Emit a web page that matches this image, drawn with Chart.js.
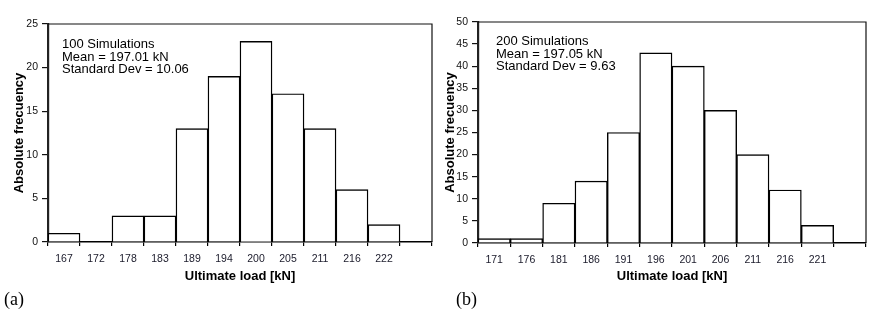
<!DOCTYPE html>
<html>
<head>
<meta charset="utf-8">
<script src="https://cdn.jsdelivr.net/npm/chart.js@4.4.1/dist/chart.umd.min.js"></script>
<style>
  html, body { margin: 0; padding: 0; background: #fff; }
  body { width: 871px; height: 315px; position: relative; overflow: hidden; }
  canvas { position: absolute; top: 0; }
  #c1 { left: 0; }
  #c2 { left: 435px; }
  .lab { position: absolute; font-family: "Liberation Serif", "Times New Roman", serif; font-size: 18px; color: #000; }
</style>
</head>
<body>
<canvas id="c1" width="440" height="315"></canvas>
<canvas id="c2" width="436" height="315"></canvas>
<div class="lab" style="left:4px; top:289px;">(a)</div>
<div class="lab" style="left:456px; top:289px;">(b)</div>
<script>
// ---- data ----
const catsA = ['167', '172', '178', '183', '189', '194', '200', '205', '211', '216', '222', ''];
const freqA = [1, 0, 3, 3, 13, 19, 23, 17, 13, 6, 2, 0];
const yTicksA = { min: 0, max: 25, step: 5 };
const noteA = ['100 Simulations', 'Mean = 197.01 kN', 'Standard Dev = 10.06'];

const catsB = ['171', '176', '181', '186', '191', '196', '201', '206', '211', '216', '221', ''];
const freqB = [1, 1, 9, 14, 25, 43, 40, 30, 20, 12, 4, 0];
const yTicksB = { min: 0, max: 50, step: 5 };
const noteB = ['200 Simulations', 'Mean = 197.05 kN', 'Standard Dev = 9.63'];

const xTitle = 'Ultimate load [kN]';
const yTitle = 'Absolute frecuency';

const FONT = '"Liberation Sans", Arial, sans-serif';

const framePlugin = {
  id: 'frame',
  afterDraw(chart, args, opts) {
    const { ctx, chartArea: a } = chart;
    ctx.save();
    ctx.strokeStyle = '#111';
    ctx.lineWidth = 1.2;
    ctx.beginPath();
    ctx.moveTo(a.left, a.top);
    ctx.lineTo(a.right, a.top);
    ctx.lineTo(a.right, a.bottom);
    ctx.stroke();
    // annotation text
    ctx.fillStyle = '#000';
    ctx.font = '13px ' + FONT;
    ctx.textBaseline = 'alphabetic';
    opts.lines.forEach((t, i) => ctx.fillText(t, a.left + opts.dx, a.top + opts.dy + i * opts.lh));
    ctx.restore();
  }
};

function makeChart(id, cats, vals, yt, note, geo) {
  return new Chart(document.getElementById(id), {
    type: 'bar',
    data: {
      labels: cats,
      datasets: [{
        data: vals,
        backgroundColor: '#fff',
        borderColor: '#000',
        borderWidth: 1.4,
        categoryPercentage: 1.0,
        barPercentage: 1.0
      }]
    },
    options: {
      responsive: false,
      devicePixelRatio: 1,
      animation: false,
      events: [],
      layout: { padding: { left: 0, top: geo.top, right: geo.right, bottom: 0 } },
      plugins: {
        legend: { display: false },
        tooltip: { enabled: false },
        frame: { lines: note, dx: geo.ndx, dy: geo.ndy, lh: 12.7 }
      },
      scales: {
        x: {
          grid: { display: true, drawOnChartArea: false, drawTicks: true, tickLength: 4, color: '#000', lineWidth: 1.2, offset: true },
          border: { display: true, color: '#000', width: 1.5 },
          ticks: { color: '#1a1a2a', font: { family: FONT, size: 10.5 }, padding: 7, maxRotation: 0, autoSkip: false },
          title: { display: true, text: xTitle, color: '#000', font: { family: FONT, size: 13, weight: 'bold' }, padding: { top: 0, bottom: geo.xtb } },
          afterFit(s) { s.height = geo.xh; }
        },
        y: {
          min: yt.min, max: yt.max,
          grid: { display: true, drawOnChartArea: false, drawTicks: true, tickLength: 6, color: '#111', lineWidth: 1.2 },
          border: { display: true, color: '#222', width: 2.2 },
          ticks: { stepSize: yt.step, color: '#111', font: { family: FONT, size: 10.5 }, padding: 4 },
          title: { display: true, text: yTitle, color: '#000', font: { family: FONT, size: 13, weight: 'bold' }, padding: { top: geo.ytp, bottom: 0 } },
          afterFit(s) { s.width = geo.yw; }
        }
      }
    },
    plugins: [framePlugin]
  });
}

makeChart('c1', catsA, freqA, yTicksA, noteA, { top: 24, right: 8, yw: 48, xh: 73, xtb: 31, ytp: 12, ndx: 14, ndy: 24 });
makeChart('c2', catsB, freqB, yTicksB, noteB, { top: 22, right: 5, yw: 43, xh: 72, xtb: 31, ytp: 8, ndx: 18, ndy: 23 });
</script>
</body>
</html>
